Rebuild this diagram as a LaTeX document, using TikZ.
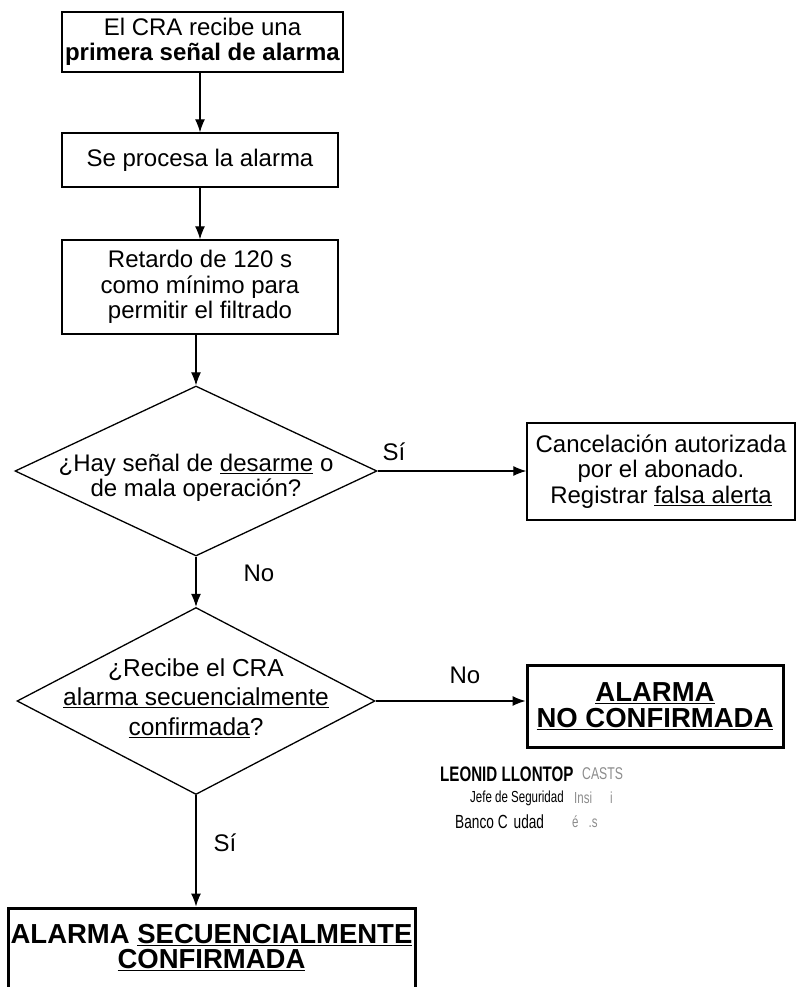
\documentclass[tikz,border=0pt]{standalone}
\usepackage{fontspec}
\setmainfont{Liberation Sans}
\newfontfamily\stampfont[FakeStretch=0.72]{Liberation Sans}
\usetikzlibrary{arrows.meta,shapes.geometric}

\begin{document}
\begin{tikzpicture}[x=1pt,y=-1pt,
  box/.style={draw, line width=1.4pt, rectangle, inner sep=0pt, align=center,
              font=\fontsize{24}{25.5}\selectfont},
  thickbox/.style={box, line width=3pt, font=\bfseries\fontsize{27.5}{26}\selectfont},
  decision/.style={draw, diamond, line width=1.3pt, inner sep=0pt},
  txt/.style={align=center, inner sep=0pt, font=\fontsize{24}{25.5}\selectfont},
  flow/.style={line width=1.1pt, -{Latex[length=13pt,width=10pt]}},
  lbl/.style={inner sep=0pt, font=\fontsize{24}{25}\selectfont},
  stamp/.style={inner sep=0pt, anchor=west},
  faint/.style={text=black!45}]

\useasboundingbox (0,0) rectangle (797,987);

% main column
\node[box, minimum width=281pt, minimum height=60pt] (b1) at (202.5,42)
  {El CRA recibe una\\\textbf{primera señal de alarma}};
\node[box, minimum width=276pt, minimum height=54pt] (b2) at (200,160)
  {Se procesa la alarma};
\node[box, minimum width=276pt, minimum height=94pt] (b3) at (200,287)
  {Retardo de 120 s\\como mínimo para\\permitir el filtrado};

% first decision
\node[decision, minimum width=362pt, minimum height=170pt] (d1) at (196,471) {};
\node[txt] (d1t) at (196,478)
  {¿Hay señal de \underline{desarme} o\\de mala operación?};

\node[box, minimum width=268pt, minimum height=97pt] (c1) at (661,471.5)
  {Cancelación autorizada\\por el abonado.\\Registrar \underline{falsa alerta}};

% second decision
\node[decision, minimum width=358pt, minimum height=187pt] (d2) at (196,701) {};
\node[txt, font=\fontsize{24.5}{29.5}\selectfont] (d2t) at (196,698)
  {¿Recibe el CRA\\\underline{alarma secuencialmente}\\\underline{confirmada}?};

\node[thickbox, minimum width=256pt, minimum height=82pt] (n1) at (655,706)
  {\underline{ALARMA}\\\underline{NO CONFIRMADA}};

% final result (runs off the lower edge)
\node[draw, line width=3pt, rectangle, minimum width=407pt, minimum height=100pt] (f1) at (211.5,958) {};
\node[txt, font=\bfseries\fontsize{27.5}{25}\selectfont] (f1t) at (211.5,948)
  {ALARMA \underline{SECUENCIALMENTE}\\\underline{CONFIRMADA}};

% connectors
\draw[flow] (b1.south -| b2.north) -- (b2.north);
\draw[flow] (b2) -- (b3);
\draw[flow] (b3.south -| d1.north) -- (d1.north);
\draw[flow] (d1.east) -- (d1.east -| c1.west);
\draw[flow] (d1.south) -- (d2.north);
\draw[flow] (d2.east) -- (d2.east -| n1.west);
\draw[flow] (d2.south) -- (d2.south |- f1.north);

% branch labels
\node[lbl] (s1) at (394,452) {Sí};
\node[lbl] (s2) at (259,573) {No};
\node[lbl] (s3) at (465,675) {No};
\node[lbl] (s4) at (225,843) {Sí};

% stamp
\node[stamp, font=\stampfont\bfseries\fontsize{21}{22}\selectfont] (st1) at (440,774)
  {LEONID LLONTOP};
\node[stamp, faint, font=\stampfont\fontsize{17}{18}\selectfont] (st1b) at (582,774)
  {CASTS};
\node[stamp, font=\stampfont\fontsize{16}{18}\selectfont] (st2) at (470,798)
  {Jefe de Seguridad};
\node[stamp, faint, font=\stampfont\fontsize{16}{18}\selectfont] (st2b) at (574,798)
  {Insi\hspace{18pt}i};
\node[stamp, font=\stampfont\fontsize{19}{20}\selectfont] (st3) at (455,822)
  {Banco C\hspace{6pt}udad};
\node[stamp, faint, font=\stampfont\fontsize{16}{18}\selectfont] (st3b) at (572,822)
  {é\hspace{10pt}.s};
\end{tikzpicture}
\end{document}
